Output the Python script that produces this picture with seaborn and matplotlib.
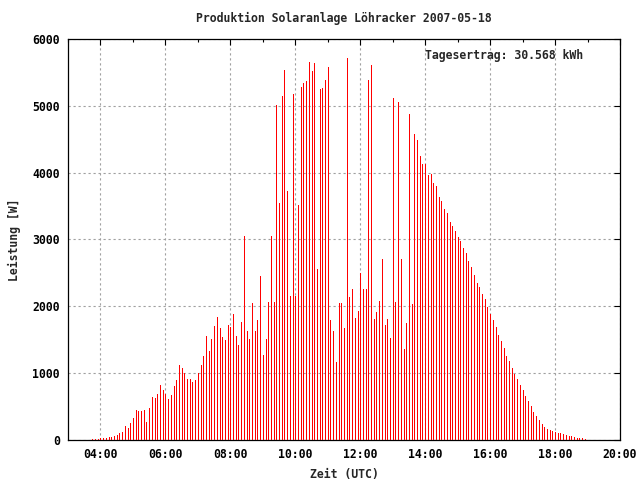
import numpy as np
import pandas as pd
import matplotlib
matplotlib.use("Agg")
import matplotlib.pyplot as plt
import seaborn as sns

# Leistung [W] alle 5 Minuten, ab 03:45 UTC
start_time = 3.75
step_minutes = 5
power = [
    15, 15, 15, 35, 35, 35, 45, 45, 65, 80,
    105, 125, 210, 185, 260, 335, 450, 435, 435, 450,
    270, 480, 645, 635, 690, 825, 755, 695, 615, 675,
    810, 900, 1125, 1080, 1005, 915, 915, 870, 900, 1000,
    1120, 1255, 1555, 1330, 1510, 1705, 1840, 1675, 1535, 1490,
    1715, 1685, 1880, 1550, 1420, 1760, 3045, 1625, 1510, 2045,
    1625, 1790, 2450, 1270, 1510, 2060, 3045, 2060, 5015, 3550,
    5150, 5535, 3730, 2150, 5180, 2150, 3520, 5285, 5345, 5375,
    5655, 5520, 5640, 2565, 5255, 5270, 5390, 5580, 1790, 1625,
    1165, 2045, 2045, 1670, 5715, 2135, 2255, 1820, 1925, 2505,
    2255, 2255, 5390, 5610, 1805, 1910, 2075, 2715, 1715, 1805,
    1520, 5120, 2060, 5060, 2715, 1360, 1745, 4880, 2030, 4580,
    4495, 4255, 4135, 4135, 3970, 3985, 3850, 3805, 3640, 3580,
    3450, 3390, 3255, 3195, 3120, 3035, 2975, 2870, 2795, 2675,
    2585, 2465, 2350, 2290, 2180, 2105, 1985, 1880, 1790, 1685,
    1565, 1475, 1375, 1255, 1180, 1075, 985, 910, 820, 745,
    655, 580, 505, 420, 360, 300, 240, 195, 165, 150,
    135, 120, 105, 105, 90, 75, 60, 60, 45, 30,
    30, 30, 15,
]

x_ticks = [4, 6, 8, 10, 12, 14, 16, 18, 20]
x_tick_labels = ["04:00", "06:00", "08:00", "10:00", "12:00", "14:00", "16:00", "18:00", "20:00"]
y_ticks = [0, 1000, 2000, 3000, 4000, 5000, 6000]

title = "Produktion Solaranlage Löhracker 2007-05-18"
yield_text = "Tagesertrag: 30.568 kWh"

df = pd.DataFrame({"power": power})
df["hour"] = start_time + np.arange(len(df)) * step_minutes / 60.0

sns.set_theme(style="white")
plt.rcParams["font.family"] = ["DejaVu Sans Mono", "DejaVu Sans"]
plt.rcParams["font.weight"] = "bold"
fs = 8.3

fig = plt.figure(figsize=(6.4, 4.8), dpi=100)
ax = fig.add_axes([68 / 640, 1 - 440 / 480, 552 / 640, 401 / 480])

# impulses, 1 px wide
ax.vlines(df["hour"], 0, df["power"], color="#ff0000", linewidth=0.72, antialiased=False, zorder=3)

ax.set_xlim(3, 20)
ax.set_ylim(0, 6000)
ax.set_xticks(x_ticks)
ax.set_xticklabels(x_tick_labels)
ax.set_xticks(np.arange(3, 21, 1), minor=True)
ax.set_yticks(y_ticks)

ax.grid(True, which="major", color="#a0a0a0", linestyle=(0, (2, 2.5)), linewidth=0.8, zorder=0)
ax.tick_params(which="both", direction="in", top=True, right=True, colors="black",
               labelsize=fs, width=0.8)
ax.tick_params(which="major", length=4.5, pad=6)
ax.tick_params(which="minor", length=2.5)
for sp in ax.spines.values():
    sp.set_color("black")
    sp.set_linewidth(0.9)

ax.set_xlabel("Zeit (UTC)", fontsize=fs, fontweight="bold", labelpad=5)
ax.set_ylabel("Leistung [W]", fontsize=fs, fontweight="bold", labelpad=8)
fig.text(344 / 640, 1 - 18 / 480, title, ha="center", va="center", fontsize=fs, fontweight="bold")
ax.text(0.647, 0.958, yield_text, transform=ax.transAxes, ha="left", va="center",
        fontsize=fs, fontweight="bold")

fig.savefig("out.png", dpi=100, facecolor="white")
